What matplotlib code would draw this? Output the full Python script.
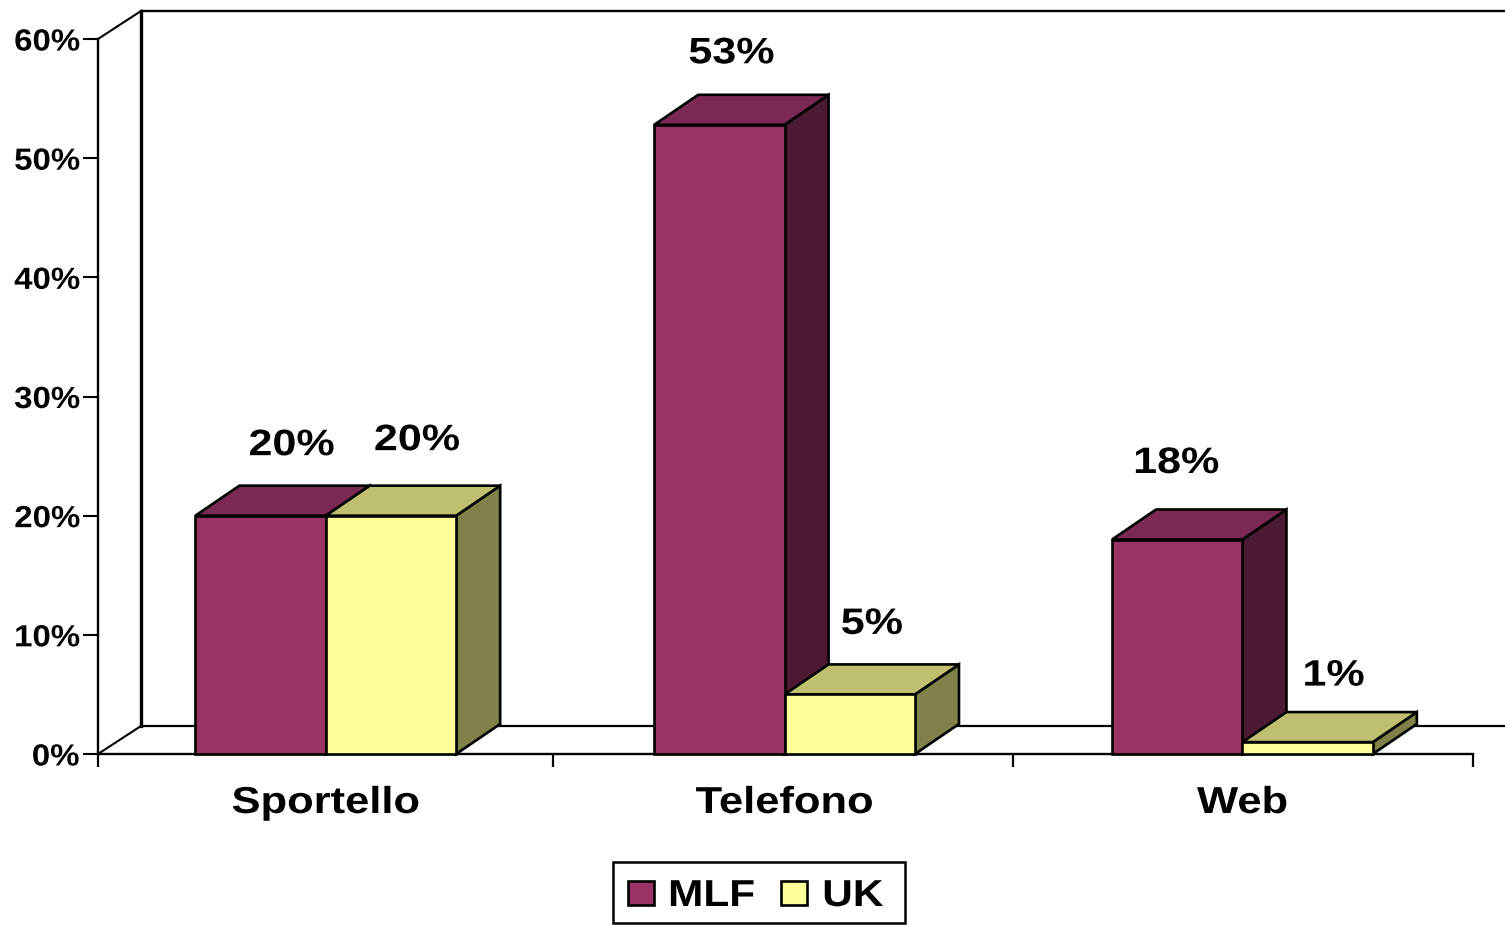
import matplotlib
matplotlib.use("Agg")
import matplotlib.pyplot as plt
import matplotlib.patheffects as pe
from matplotlib.patches import Polygon, Rectangle
from matplotlib.transforms import Affine2D

# ------------------------
# Data
# ------------------------
categories = ["Sportello", "Telefono", "Web"]
series_names = ["MLF", "UK"]
mlf_values = [20, 52.8, 18]
uk_values = [20, 5, 1]
y_ticks = [0, 10, 20, 30, 40, 50, 60]

# ------------------------
# Style
# ------------------------
FONT = "Liberation Sans"
colors = {"MLF": ("#993366", "#7A2952", "#4D1A33"),
          "UK": ("#FFFF99", "#BFBF70", "#808049")}
W, H = 1505, 925
LEFT, RIGHT, TOP, BOTTOM = 98, 1473, 39, 754

px_x = 3 / (RIGHT - LEFT)
px_y = 60 / (BOTTOM - TOP)

BAR_W = 0.2845          # bar width in category units
DX = 44 * px_x          # bar depth
DY = 30 * px_y
WALL_DX = 43 * px_x     # back wall offset
WALL_DY = 28 * px_y
centers = [0.497, 1.498, 2.497]
tick_pos = [0, 0.993, 1.997, 3]

# label offsets from front bar top centre, in pixels (right, up)
mlf_offsets = [(31, 70), (12, 71), (-1, 76)]
uk_offsets = [(26, 75), (22, 70), (26, 66)]


class Widen(pe.AbstractPathEffect):
    """Reference text is letter-spaced, stretch it around its own centre."""

    def __init__(self, factor):
        super().__init__()
        self.factor = factor

    def draw_path(self, renderer, gc, tpath, affine, rgbFace=None):
        ext = tpath.get_extents()
        cx = (ext.x0 + ext.x1) / 2
        stretch = Affine2D().translate(-cx, 0).scale(self.factor, 1).translate(cx, 0)
        renderer.draw_path(gc, tpath, stretch + affine, rgbFace)


fig = plt.figure(figsize=(W / 100, H / 100), dpi=100)
ax = fig.add_axes([LEFT / W, 1 - BOTTOM / H, (RIGHT - LEFT) / W, (BOTTOM - TOP) / H])
ax.set_xlim(0, 3)
ax.set_ylim(0, 60)
for s in ax.spines.values():
    s.set_visible(False)
ax.patch.set_visible(False)


def line(xs, ys, lw=2.0):
    ax.plot(xs, ys, color="black", lw=lw, clip_on=False, solid_capstyle="projecting", zorder=1)


# Back wall and floor
x_end = 3 + 32 * px_x
line([WALL_DX, WALL_DX], [WALL_DY, 60 + WALL_DY], lw=2.4)
line([WALL_DX, x_end], [60 + WALL_DY, 60 + WALL_DY], lw=1.7)
line([WALL_DX, x_end], [WALL_DY, WALL_DY], lw=1.6)
line([0, WALL_DX], [0, WALL_DY], lw=1.5)
line([0, WALL_DX], [60, 60 + WALL_DY], lw=1.5)
line([0, 0], [0, 60], lw=1.7)
line([0, 3], [0, 0], lw=1.7)

# Axes ticks and labels
ax.set_xticks(tick_pos)
ax.set_xticklabels([])
ax.set_yticks(y_ticks)
ax.set_yticklabels([f"{v}%" for v in y_ticks], fontname=FONT, fontweight="bold", fontsize=22)
ax.tick_params(axis="y", length=10.8, width=1.5, pad=3.8)
ax.tick_params(axis="x", length=9.4, width=1.6)
for t in ax.get_yticklabels():
    t.set_path_effects([Widen(1.08)])
for c, name in zip(centers, categories):
    t = ax.annotate(name, (c, 0), xytext=(0, -49 * 0.72), textcoords="offset points",
                    ha="center", va="center", fontname=FONT, fontweight="bold", fontsize=27)
    t.set_path_effects([Widen(1.16)])


def draw_bar(x0, val, cols, z):
    x1 = x0 + BAR_W
    front, top, side = cols
    kw = dict(edgecolor="black", lw=1.9, joinstyle="miter", clip_on=False, zorder=z)
    ax.add_patch(Polygon([(x1, 0), (x1 + DX, DY), (x1 + DX, val + DY), (x1, val)], facecolor=side, **kw))
    ax.add_patch(Polygon([(x0, val), (x0 + DX, val + DY), (x1 + DX, val + DY), (x1, val)], facecolor=top, **kw))
    ax.add_patch(Rectangle((x0, 0), BAR_W, val, facecolor=front, **kw))


def put_label(x0, val, off):
    t = ax.text(x0 + BAR_W / 2 + off[0] * px_x, val + off[1] * px_y, f"{val:.0f}%", ha="center", va="center",
                fontname=FONT, fontweight="bold", fontsize=26.5, clip_on=False, zorder=10)
    t.set_path_effects([Widen(1.17)])


# ------------------------
# Bars
# ------------------------
for i, c in enumerate(centers):
    draw_bar(c - BAR_W, mlf_values[i], colors["MLF"], 3 + i * 2)
    draw_bar(c, uk_values[i], colors["UK"], 4 + i * 2)
    put_label(c - BAR_W, mlf_values[i], mlf_offsets[i])
    put_label(c, uk_values[i], uk_offsets[i])

# ------------------------
# Legend
# ------------------------
# box drawn apart, the legend's own frame can't be sized to the reference
fig.add_artist(Rectangle((613 / W, 1 - 923 / H), 292 / W, 61 / H, transform=fig.transFigure,
                         facecolor="white", edgecolor="black", lw=1.8, zorder=1))
handles = [Rectangle((0, 0), 1, 1, facecolor=colors[n][0], edgecolor="black", lw=1.9) for n in series_names]
leg = fig.legend(handles, series_names, ncol=2, loc="center",
                 bbox_to_anchor=(754 / W, 1 - 896 / H),
                 prop={"family": FONT, "weight": "bold", "size": 27},
                 frameon=False,
                 handlelength=0.69, handleheight=0.61, handletextpad=0.51,
                 columnspacing=0.82, borderpad=0.38, borderaxespad=0)
for t in leg.get_texts():
    t.set_path_effects([Widen(1.13)])

plt.savefig("out.png", dpi=100)
